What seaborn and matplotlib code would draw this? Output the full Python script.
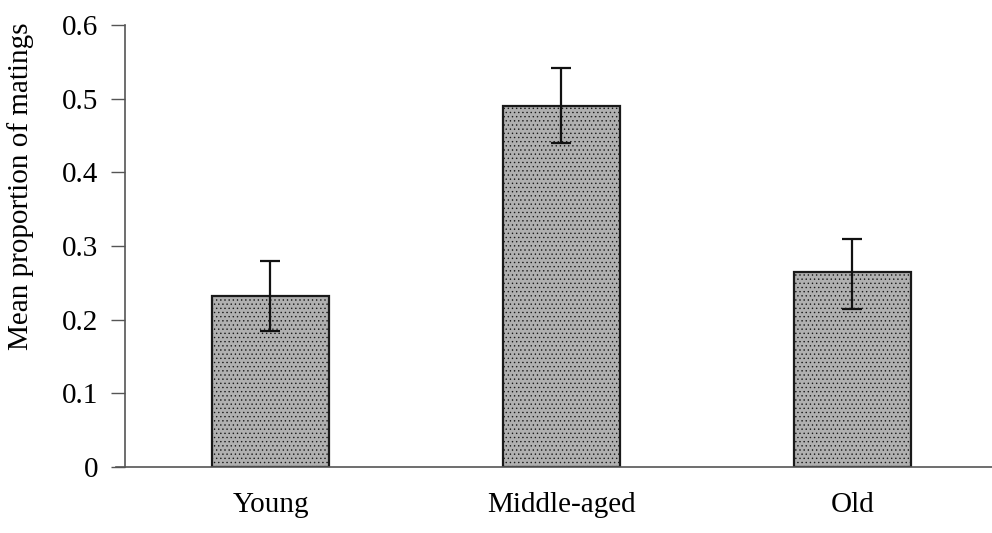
import matplotlib
matplotlib.use("Agg")
import matplotlib.pyplot as plt
import seaborn as sns
import pandas as pd
import numpy as np

categories = ["Young", "Middle-aged", "Old"]
means = [0.232, 0.490, 0.265]
err_low = [0.185, 0.440, 0.215]
err_high = [0.280, 0.542, 0.310]
yticks = [0, 0.1, 0.2, 0.3, 0.4, 0.5, 0.6]
ytick_labels = ["0", "0.1", "0.2", "0.3", "0.4", "0.5", "0.6"]
ylabel = "Mean proportion of matings"

sns.set_theme(style="white")
plt.rcParams["font.family"] = ["Liberation Serif", "DejaVu Serif"]
plt.rcParams["text.color"] = "black"
plt.rcParams["xtick.color"] = "black"
plt.rcParams["ytick.color"] = "black"
plt.rcParams["axes.labelcolor"] = "black"
plt.rcParams["hatch.color"] = "#6a6a6a"
plt.rcParams["hatch.linewidth"] = 0.5

df = pd.DataFrame({"group": categories, "value": means})

fig = plt.figure(figsize=(9.92, 5.33), dpi=100)
ax = fig.add_axes([0.126, 0.124, 0.880, 0.829])

sns.barplot(data=df, x="group", y="value", order=categories, errorbar=None,
            color="#a8a8a8", saturation=1, width=0.405,
            edgecolor="#1a1a1a", linewidth=1.6, ax=ax)
for p in ax.patches:
    p.set_hatch("....")
    p.set_facecolor("#b0b0b0")

x = np.arange(len(categories))
m = np.array(means)
yerr = np.vstack([m - np.array(err_low), np.array(err_high) - m])
ax.errorbar(x, m, yerr=yerr, fmt="none", ecolor="#111111", elinewidth=1.6,
            capsize=7, capthick=1.6, zorder=5)

ax.set_xlim(-0.5, 2.5)
ax.set_ylim(0, 0.6)
ax.set_yticks(yticks)
ax.set_yticklabels(ytick_labels)
ax.set_xticks(x)
ax.set_xticklabels(categories)
ax.set_xticks([0.5, 1.5], minor=True)
ax.tick_params(axis="x", which="major", length=0, pad=18, labelsize=21)
ax.tick_params(axis="x", which="minor", length=8, width=1, color="#333333", direction="out")
ax.tick_params(axis="y", which="major", length=10, width=1, color="#555555",
               direction="out", pad=9, labelsize=21, left=True)
ax.set_xlabel("")
ax.set_ylabel(ylabel, fontsize=21)
ax.yaxis.set_label_coords(-0.104, 0.635)

for s in ["top", "right"]:
    ax.spines[s].set_visible(False)
for s in ["left", "bottom"]:
    ax.spines[s].set_color("#555555")
    ax.spines[s].set_linewidth(1.2)
ax.spines["bottom"].set_bounds(-0.53, 2.5)
ax.spines["bottom"].set_clip_on(False)

fig.savefig("out.png", dpi=100)
